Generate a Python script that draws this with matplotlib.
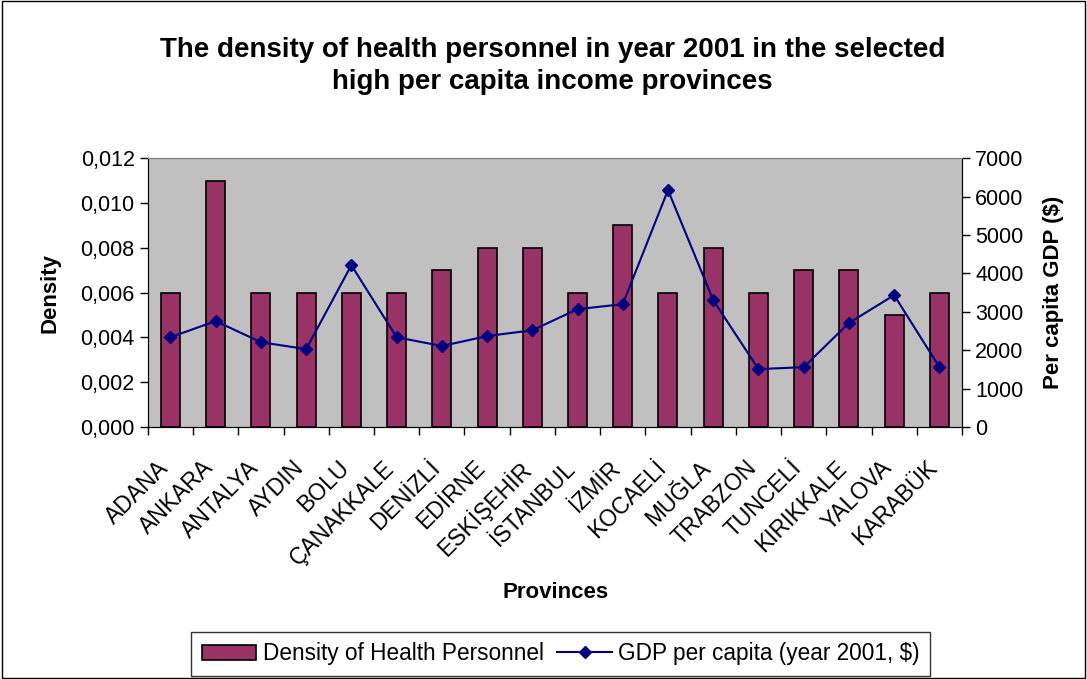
import numpy as np
import matplotlib.pyplot as plt
from matplotlib.ticker import FuncFormatter
from matplotlib.patches import Rectangle

plt.rcParams['font.family'] = ['Liberation Sans', 'DejaVu Sans']

# Data
provinces = ['ADANA', 'ANKARA', 'ANTALYA', 'AYDIN', 'BOLU', 'ÇANAKKALE', 'DENİZLİ',
             'EDİRNE', 'ESKİŞEHİR', 'İSTANBUL', 'İZMİR', 'KOCAELİ', 'MUĞLA',
             'TRABZON', 'TUNCELİ', 'KIRIKKALE', 'YALOVA', 'KARABÜK']
density = [0.006, 0.011, 0.006, 0.006, 0.006, 0.006, 0.007, 0.008, 0.008,
           0.006, 0.009, 0.006, 0.008, 0.006, 0.007, 0.007, 0.005, 0.006]
gdp = [2340, 2760, 2210, 2030, 4215, 2340, 2110, 2370, 2520,
       3070, 3200, 6170, 3305, 1510, 1560, 2710, 3435, 1560]


def main():
    fig = plt.figure(figsize=(10.87, 6.79), dpi=100)
    ax = fig.add_axes([0.136, 0.371, 0.749, 0.396])
    ax2 = ax.twinx()

    x = np.arange(len(provinces))
    bars = ax.bar(x, density, width=0.42, color='#993366', edgecolor='black',
                  linewidth=1.2, zorder=3, label='Density of Health Personnel')
    line, = ax2.plot(x, gdp, color='#000080', marker='D', markersize=6,
                     linewidth=1.5, label='GDP per capita (year 2001, $)')

    ax.set_facecolor('#C0C0C0')
    ax.set_xlim(-0.5, len(provinces) - 0.5)
    ax.set_ylim(0, 0.012)
    ax.set_yticks(np.arange(0, 0.0121, 0.002))
    ax.yaxis.set_major_formatter(FuncFormatter(lambda v, p: f'{v:.3f}'.replace('.', ',')))
    ax2.set_ylim(0, 7000)
    ax2.set_yticks(np.arange(0, 7001, 1000))

    # ticks at category boundaries, labels at centres
    ax.set_xticks(np.arange(-0.5, len(provinces)))
    ax.set_xticklabels([])
    ax.tick_params(axis='x', length=6, width=1, direction='out')
    for i, name in enumerate(provinces):
        ax.annotate(name, xy=(i, 0), xycoords=('data', 'axes fraction'),
                    xytext=(-10, -21), textcoords='offset points',
                    rotation=45, ha='right', va='top', rotation_mode='anchor',
                    fontsize=16.5)

    ax.tick_params(axis='y', labelsize=15.5, length=6, width=1)
    ax2.tick_params(axis='y', labelsize=15.5, length=6, width=1)
    for a in (ax, ax2):
        a.spines['top'].set_color('#808080')
        a.spines['left'].set_color('black')
        a.spines['right'].set_color('black')
        a.spines['bottom'].set_color('black')

    ax.set_ylabel('Density', fontsize=16, fontweight='bold', labelpad=14)
    ax2.set_ylabel('Per capita GDP ($)', fontsize=16, fontweight='bold', labelpad=14)
    fig.text(0.511, 0.128, 'Provinces', ha='center', va='center',
             fontsize=16, fontweight='bold')

    fig.text(0.508, 0.903, 'The density of health personnel in year 2001 in the selected\n'
             'high per capita income provinces', ha='center', va='center',
             fontsize=20, fontweight='bold', linespacing=1.3)

    leg = fig.legend([bars, line], ['Density of Health Personnel', 'GDP per capita (year 2001, $)'],
                     loc='center', bbox_to_anchor=(0.516, 0.037), ncol=2,
                     fontsize=16.3, frameon=True, fancybox=False, edgecolor='black',
                     handlelength=2.4, columnspacing=0.6, handletextpad=0.3,
                     borderpad=0.45)
    leg.get_frame().set_linewidth(1)

    fig.patches.append(Rectangle((0.002, 0.002), 0.996, 0.996, transform=fig.transFigure,
                                 fill=False, edgecolor='black', linewidth=1))

    fig.savefig('out.png', dpi=100)


if __name__ == "__main__":
    main()
